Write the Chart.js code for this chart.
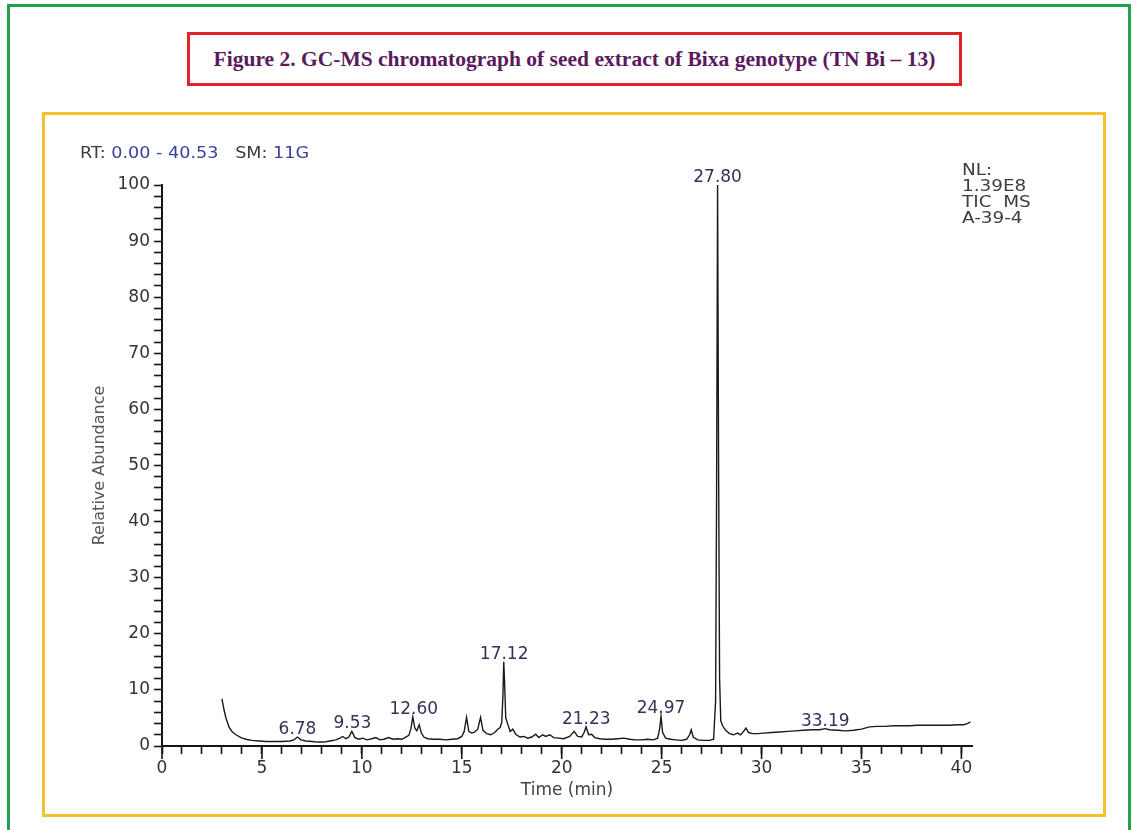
<!DOCTYPE html>
<html>
<head>
<meta charset="utf-8">
<title>GC-MS chromatograph</title>
<script src="https://cdn.jsdelivr.net/npm/chart.js@4.4.0/dist/chart.umd.min.js"></script>
<style>
  html, body { margin: 0; padding: 0; background: #fff; width: 1134px; height: 830px; overflow: hidden; }
  #frame { position: absolute; left: 7px; top: 4px; width: 1124px; height: 850px; border: 3px solid #22a04b; box-sizing: border-box; }
  #caption { position: absolute; left: 187px; top: 32px; width: 775px; height: 54px; border: 3px solid #e2222a; box-sizing: border-box;
             display: flex; align-items: center; justify-content: center;
             font: bold 21.5px "Liberation Serif", serif; color: #5a1a5e; white-space: nowrap; }
  #panel { position: absolute; left: 42px; top: 112px; width: 1064px; height: 705px; border: 3px solid #f3c22c; box-sizing: border-box; }
  #chart { position: absolute; left: 0; top: 0; z-index: 2; }
  .info { position: absolute; z-index: 3; font-family: "DejaVu Sans", sans-serif; font-size: 16px; color: #3c3c3c;
          white-space: pre; transform: scaleX(1.1); transform-origin: 0 0; }
  .num { color: #3a3f9c; }
</style>
</head>
<body>
<div id="frame"></div>
<div id="caption">Figure 2. GC-MS chromatograph of seed extract of Bixa genotype (TN Bi – 13)</div>
<div id="panel"></div>
<div class="info" style="left:80px; top:143px;">RT: <span class="num">0.00 - 40.53</span>   SM: <span class="num">11G</span></div>
<div class="info" style="left:962px; top:162px; line-height:16px; transform: scaleX(1.15);">NL:
1.39E8
TIC  MS
A-39-4</div>
<canvas id="chart" width="1134" height="830"></canvas>

<script>
  // retention time (min) and relative abundance (%)
  const retentionTimes = [
    3.00, 3.10, 3.20, 3.35, 3.50, 3.70, 3.95, 4.20, 4.50, 4.85,
    5.20, 5.60, 6.00, 6.40, 6.60, 6.78, 6.95, 7.20, 7.50, 7.80,
    8.10, 8.40, 8.70, 8.90, 9.05, 9.20, 9.35, 9.50, 9.65, 9.85,
    10.05, 10.25, 10.50, 10.70, 10.90, 11.10, 11.35, 11.55, 11.80, 12.00,
    12.20, 12.35, 12.45, 12.55, 12.65, 12.75, 12.87, 12.97, 13.10, 13.30,
    13.60, 13.90, 14.20, 14.50, 14.80, 15.00, 15.12, 15.24, 15.35, 15.50,
    15.65, 15.80, 15.94, 16.06, 16.25, 16.45, 16.65, 16.80, 16.92, 17.00,
    17.06, 17.10, 17.15, 17.20, 17.30, 17.42, 17.55, 17.70, 17.90, 18.10,
    18.30, 18.50, 18.70, 18.85, 19.05, 19.20, 19.40, 19.60, 19.85, 20.10,
    20.40, 20.62, 20.80, 21.00, 21.12, 21.22, 21.35, 21.50, 21.65, 21.90,
    22.20, 22.50, 22.80, 23.10, 23.40, 23.70, 24.00, 24.30, 24.60, 24.80,
    24.90, 24.97, 25.05, 25.20, 25.45, 25.70, 26.00, 26.25, 26.40, 26.48,
    26.58, 26.80, 27.10, 27.40, 27.60, 27.70, 27.75, 27.80, 27.85, 27.90,
    27.96, 28.05, 28.20, 28.40, 28.60, 28.80, 28.95, 29.10, 29.22, 29.35,
    29.55, 29.80, 30.10, 30.50, 30.90, 31.30, 31.70, 32.10, 32.50, 32.90,
    33.19, 33.40, 33.80, 34.20, 34.60, 35.00, 35.40, 35.80, 36.20, 36.60,
    37.00, 37.40, 37.80, 38.20, 38.60, 39.00, 39.40, 39.80, 40.10, 40.30,
    40.45
  ];
  const relAbundance = [
    8.4, 6.5, 5.0, 3.4, 2.6, 2.0, 1.5, 1.2, 1.0, 0.9,
    0.8, 0.8, 0.8, 0.9, 1.1, 1.6, 1.1, 0.9, 0.8, 0.7,
    0.7, 0.9, 1.1, 1.4, 1.7, 1.3, 1.6, 2.6, 1.5, 1.2,
    1.4, 1.1, 1.3, 1.5, 1.1, 1.2, 1.5, 1.2, 1.3, 1.2,
    1.6, 1.9, 3.0, 5.2, 3.2, 2.7, 3.8, 2.4, 1.6, 1.3,
    1.2, 1.2, 1.1, 1.2, 1.3, 1.7, 2.6, 5.1, 2.6, 2.3,
    2.5, 3.0, 5.1, 2.8, 2.2, 2.0, 2.4, 3.0, 3.3, 4.2,
    9.0, 15.0, 10.5, 5.0, 3.9, 2.6, 3.0, 2.1, 1.6, 1.7,
    1.4, 1.6, 2.1, 1.5, 2.0, 1.7, 2.0, 1.5, 1.4, 1.3,
    1.7, 2.6, 1.7, 1.6, 2.4, 3.4, 2.0, 2.1, 1.5, 1.3,
    1.2, 1.2, 1.3, 1.4, 1.2, 1.1, 1.1, 1.2, 1.1, 1.4,
    3.0, 5.3, 2.4, 1.4, 1.2, 1.1, 1.0, 1.2, 2.0, 2.9,
    1.6, 1.1, 1.0, 1.0, 1.2, 8.0, 45.0, 100, 50, 12,
    4.5, 3.6, 2.8, 2.2, 2.0, 2.3, 2.0, 2.6, 3.2, 2.4,
    2.2, 2.2, 2.3, 2.4, 2.5, 2.6, 2.7, 2.8, 2.9, 2.9,
    3.1, 2.9, 2.8, 2.7, 2.8, 3.0, 3.4, 3.5, 3.5, 3.6,
    3.6, 3.6, 3.7, 3.7, 3.7, 3.7, 3.7, 3.8, 3.8, 4.0,
    4.3
  ];
  // annotated peak retention times
  const peakLabels = ['6.78', '9.53', '12.60', '17.12', '21.23', '24.97', '27.80', '33.19'];

  const tickFont = { family: '"DejaVu Sans", sans-serif', size: 17 };
  const axisInk = '#151515';

  // peak labels sit just above the highest point near each labelled time
  const peakLabelPlugin = {
    id: 'peakLabels',
    afterDatasetsDraw(chart) {
      const { ctx, scales: { x, y } } = chart;
      ctx.save();
      ctx.font = '17px "DejaVu Sans", sans-serif';
      ctx.fillStyle = '#33335a';
      ctx.textAlign = 'center';
      ctx.textBaseline = 'alphabetic';
      peakLabels.forEach(lbl => {
        const t = parseFloat(lbl);
        let top = 0;
        retentionTimes.forEach((rt, i) => {
          if (Math.abs(rt - t) <= 0.12) top = Math.max(top, relAbundance[i]);
        });
        ctx.fillText(lbl, x.getPixelForValue(t), y.getPixelForValue(top) - 3);
      });
      ctx.restore();
    }
  };

  // longer tick marks every 5 min
  const majorTickPlugin = {
    id: 'majorTicks',
    afterDraw(chart) {
      const { ctx, chartArea, scales: { x } } = chart;
      ctx.save();
      ctx.strokeStyle = axisInk;
      ctx.lineWidth = 1.6;
      ctx.beginPath();
      for (let v = 0; v <= 40; v += 5) {
        const px = x.getPixelForValue(v);
        ctx.moveTo(px, chartArea.bottom);
        ctx.lineTo(px, chartArea.bottom + 13);
      }
      ctx.stroke();
      ctx.restore();
    }
  };

  const ctx = document.getElementById('chart').getContext('2d');
  new Chart(ctx, {
    type: 'line',
    data: {
      datasets: [{
        data: retentionTimes.map((t, i) => ({ x: t, y: relAbundance[i] })),
        borderColor: '#1a1a1a',
        borderWidth: 1.4,
        pointRadius: 0,
        tension: 0,
        fill: false,
        clip: 6
      }]
    },
    options: {
      responsive: false,
      animation: false,
      devicePixelRatio: 1,
      layout: { padding: { left: 60, top: 185, right: 162, bottom: 24 } },
      plugins: { legend: { display: false }, tooltip: { enabled: false } },
      scales: {
        x: {
          type: 'linear',
          min: 0,
          max: 40.53,
          afterFit(scale) { scale.height = 60; },
          border: { color: axisInk, width: 2 },
          grid: { drawOnChartArea: false, tickLength: 8, tickColor: axisInk, tickWidth: 1.6 },
          ticks: {
            stepSize: 1,
            includeBounds: false,
            autoSkip: false,
            maxRotation: 0,
            padding: 4,
            color: '#333',
            font: tickFont,
            callback: v => (v % 5 === 0 ? v : '')
          },
          title: {
            display: true,
            text: 'Time (min)',
            color: '#444',
            font: { family: '"DejaVu Sans", sans-serif', size: 17 },
            padding: { top: 0, bottom: 5 }
          }
        },
        y: {
          min: 0,
          max: 100,
          afterFit(scale) { scale.width = 102; },
          border: { color: axisInk, width: 2 },
          grid: { drawOnChartArea: false, tickLength: 8, tickColor: axisInk, tickWidth: 1.6 },
          ticks: {
            stepSize: 2,
            autoSkip: false,
            padding: 4,
            color: '#333',
            font: tickFont,
            callback: v => (v % 10 === 0 ? v : '')
          },
          title: {
            display: true,
            text: 'Relative Abundance',
            color: '#555',
            font: { family: '"DejaVu Sans", sans-serif', size: 16 },
            padding: { top: 30, bottom: 0 }
          }
        }
      }
    },
    plugins: [peakLabelPlugin, majorTickPlugin]
  });
</script>
</body>
</html>
